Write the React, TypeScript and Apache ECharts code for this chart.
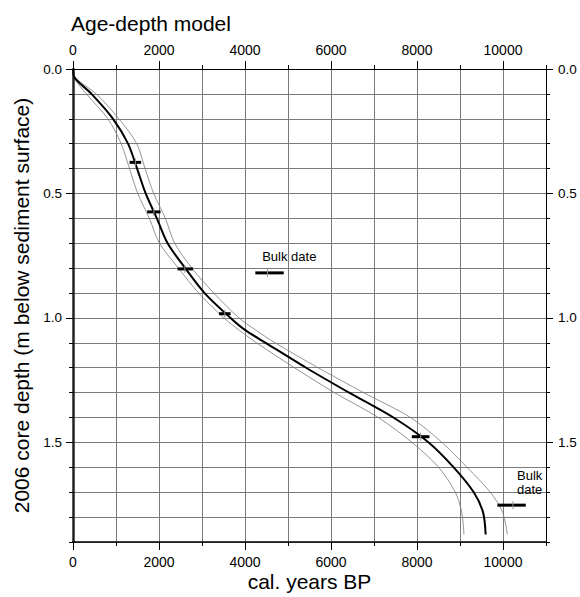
import React, { useEffect, useRef } from "react";
import * as echarts from "echarts";

// depth grid (m below sediment surface)
const depthGrid = [0, 0.036, 0.1, 0.2, 0.3, 0.4, 0.5, 0.6, 0.7, 0.8, 0.9, 1.0, 1.05, 1.1, 1.2, 1.3, 1.4, 1.5, 1.6, 1.7, 1.78, 1.87];
// modelled age (cal. years BP)
const ageMain = [0, 40, 430, 930, 1280, 1490, 1690, 1950, 2200, 2610, 3060, 3664, 4015, 4480, 5420, 6420, 7450, 8271, 8853, 9320, 9535, 9597];
const ageLower = [0, 30, 310, 811, 1120, 1313, 1506, 1776, 2010, 2453, 2922, 3508, 3870, 4270, 5150, 6080, 7100, 7884, 8504, 8891, 9039, 9093];
const ageUpper = [0, 60, 540, 1066, 1483, 1676, 1876, 2147, 2365, 2766, 3273, 3860, 4260, 4700, 5700, 6760, 7850, 8581, 9163, 9705, 9990, 10101];

// dated samples
const dateDepth = [0.375, 0.574, 0.803, 0.983, 0.819, 1.477, 1.752];
const dateAge = [1450, 1880, 2610, 3530, 4570, 8085, 10200];
const dateErr = [135, 155, 180, 135, 330, 205, 330];
const dateMedian = [1450, 1880, 2600, 3530, 4523, 8085, 10233];

// annotations
const noteText = ["Bulk date", "Bulk\ndate"];
const noteAge = [4400, 10326];
const noteDepth = [0.752, 1.659];

// tick labels
const xLabelVals = [0, 2000, 4000, 6000, 8000, 10000];
const yLabelVals = [0, 0.5, 1.0, 1.5];

const FONT = "'Liberation Sans', Arial, Helvetica, sans-serif";

export default function App() {
  const ref = useRef<HTMLDivElement>(null);
  useEffect(() => {
    if (!ref.current) return;
    const chart = echarts.init(ref.current, null, { renderer: "svg" });
    const toPairs = (ages: number[]) => ages.map((a, i) => [a, depthGrid[i]]);
    const gridColor = "#7a7a7a";
    const baseX = { type: "value", min: 0, max: 11000, gridIndex: 0 };
    const baseY = { type: "value", min: 0, max: 1.9, inverse: true, gridIndex: 0 };
    const xFmt = (v: number) => String(Math.round(v));
    const yFmt = (v: number) => v.toFixed(1);
    const option: any = {
      animation: false,
      backgroundColor: "#fff",
      textStyle: { fontFamily: FONT, color: "#000" },
      title: {
        text: "Age-depth model",
        left: 66,
        top: 8,
        textStyle: { fontSize: 21, fontWeight: "normal", color: "#000", fontFamily: FONT },
      },
      grid: { left: 73, right: 34, top: 69, bottom: 54, containLabel: false },
      xAxis: [
        {
          ...baseX,
          position: "bottom",
          interval: 1000,
          axisLine: { show: true, onZero: false, lineStyle: { color: "#000", width: 1.5 } },
          axisTick: { show: true, length: 4, lineStyle: { color: "#000", width: 1 } },
          axisLabel: { show: false },
          splitLine: { show: true, lineStyle: { color: gridColor, width: 1 } },
          name: "cal. years BP",
          nameLocation: "middle",
          nameGap: 29,
          nameTextStyle: { fontSize: 21, color: "#000", fontFamily: FONT },
        },
        {
          ...baseX,
          position: "bottom",
          axisLine: { show: false, onZero: false },
          axisTick: { show: true, length: 8, customValues: xLabelVals, lineStyle: { color: "#000", width: 1 } },
          axisLabel: { show: true, customValues: xLabelVals, margin: 13, fontSize: 14, color: "#000", fontFamily: FONT, formatter: xFmt },
          splitLine: { show: false },
        },
        {
          ...baseX,
          position: "top",
          interval: 1000,
          axisLine: { show: true, onZero: false, lineStyle: { color: "#000", width: 1 } },
          axisTick: { show: true, length: 4, lineStyle: { color: "#000", width: 1 } },
          axisLabel: { show: false },
          splitLine: { show: false },
        },
        {
          ...baseX,
          position: "top",
          axisLine: { show: false, onZero: false },
          axisTick: { show: true, length: 8, customValues: xLabelVals, lineStyle: { color: "#000", width: 1 } },
          axisLabel: { show: true, customValues: xLabelVals, margin: 12, fontSize: 14, color: "#000", fontFamily: FONT, formatter: xFmt },
          splitLine: { show: false },
        },
      ],
      yAxis: [
        {
          ...baseY,
          position: "left",
          interval: 0.1,
          axisLine: { show: true, onZero: false, lineStyle: { color: "#222", width: 2.5 } },
          axisTick: { show: true, length: 4, lineStyle: { color: "#000", width: 1 } },
          axisLabel: { show: false },
          splitLine: { show: true, lineStyle: { color: gridColor, width: 1 } },
          name: "2006 core depth (m below sediment surface)",
          nameLocation: "middle",
          nameGap: 41,
          nameTextStyle: { fontSize: 21, color: "#000", fontFamily: FONT },
        },
        {
          ...baseY,
          position: "left",
          axisLine: { show: false, onZero: false },
          axisTick: { show: true, length: 7, customValues: yLabelVals, lineStyle: { color: "#000", width: 1 } },
          axisLabel: {
            show: true,
            customValues: yLabelVals,
            margin: 11,
            fontSize: 13.5,
            color: "#000",
            fontFamily: FONT,
            formatter: yFmt,
          },
          splitLine: { show: false },
        },
        {
          ...baseY,
          position: "right",
          interval: 0.1,
          axisLine: { show: true, onZero: false, lineStyle: { color: "#000", width: 1 } },
          axisTick: { show: true, length: 4, lineStyle: { color: "#000", width: 1 } },
          axisLabel: { show: false },
          splitLine: { show: false },
        },
        {
          ...baseY,
          position: "right",
          axisLine: { show: false, onZero: false },
          axisTick: { show: true, length: 7, customValues: yLabelVals, lineStyle: { color: "#000", width: 1 } },
          axisLabel: {
            show: true,
            customValues: yLabelVals,
            margin: 12,
            fontSize: 13.5,
            color: "#000",
            fontFamily: FONT,
            formatter: yFmt,
          },
          splitLine: { show: false },
        },
      ],
      series: [
        {
          type: "line",
          xAxisIndex: 0,
          yAxisIndex: 0,
          data: toPairs(ageLower),
          showSymbol: false,
          smooth: 0.3,
          lineStyle: { color: "#7a7a7a", width: 0.8 },
          z: 3,
        },
        {
          type: "line",
          xAxisIndex: 0,
          yAxisIndex: 0,
          data: toPairs(ageUpper),
          showSymbol: false,
          smooth: 0.3,
          lineStyle: { color: "#7a7a7a", width: 0.8 },
          z: 3,
        },
        {
          type: "line",
          xAxisIndex: 0,
          yAxisIndex: 0,
          data: toPairs(ageMain),
          showSymbol: false,
          smooth: 0.3,
          lineStyle: { color: "#000", width: 2 },
          z: 4,
        },
        {
          type: "custom",
          xAxisIndex: 0,
          yAxisIndex: 0,
          z: 5,
          clip: false,
          data: dateAge.map((a, i) => [a, dateDepth[i], dateErr[i], dateMedian[i]]),
          encode: { x: 0, y: 1 },
          renderItem: (params: any, api: any) => {
            const v = api.value(0);
            const d = api.value(1);
            const e = api.value(2);
            const m = api.value(3);
            const p1 = api.coord([v - e, d]);
            const p2 = api.coord([v + e, d]);
            const pm = api.coord([m, d]);
            return {
              type: "group",
              children: [
                {
                  type: "line",
                  shape: { x1: p1[0], y1: p1[1], x2: p2[0], y2: p2[1] },
                  style: { stroke: "#000", lineWidth: 3 },
                },
                {
                  type: "line",
                  shape: { x1: pm[0], y1: pm[1] - 4, x2: pm[0], y2: pm[1] + 4 },
                  style: { stroke: "#999", lineWidth: 1 },
                },
              ],
            };
          },
        },
        {
          type: "custom",
          xAxisIndex: 0,
          yAxisIndex: 0,
          z: 6,
          clip: false,
          data: noteAge.map((a, i) => [a, noteDepth[i], i]),
          encode: { x: 0, y: 1 },
          renderItem: (params: any, api: any) => {
            const p = api.coord([api.value(0), api.value(1)]);
            const idx = api.value(2);
            return {
              type: "text",
              x: p[0],
              y: p[1],
              style: {
                text: noteText[idx],
                fill: "#000",
                font: `13px ${FONT}`,
                lineHeight: 14,
                textAlign: "left",
                textVerticalAlign: "middle",
              },
            };
          },
        },
      ],
    };
    chart.setOption(option);
    return () => chart.dispose();
  }, []);
  return (
    <div
      ref={ref}
      style={{ position: "fixed", left: 0, top: 0, width: 580, height: 597, background: "#fff" }}
    />
  );
}
